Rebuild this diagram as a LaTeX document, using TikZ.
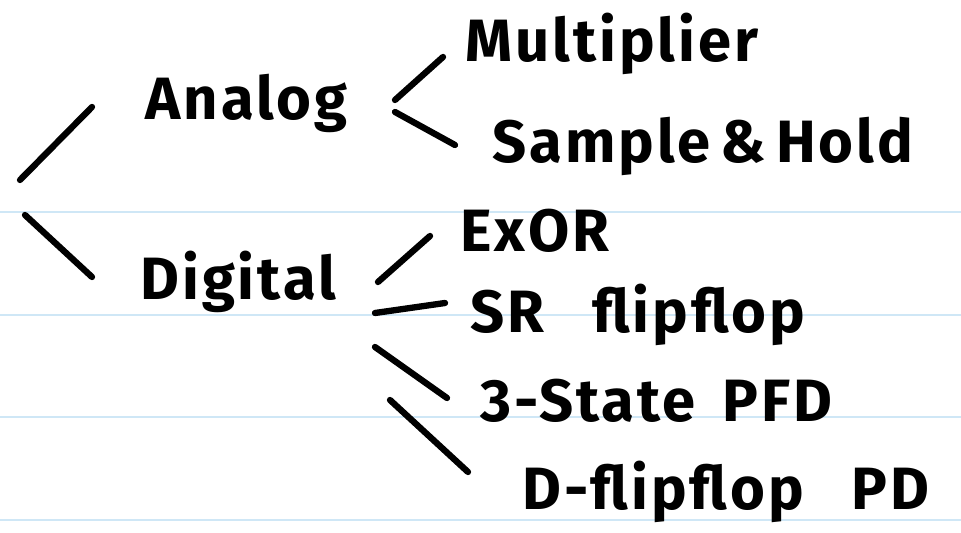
\documentclass[tikz,border=0pt]{standalone}
\usepackage{fontspec}
\setmainfont[LetterSpace=5]{Fira Sans}
\definecolor{ruleblue}{HTML}{CFE7F6}
\newcommand\widegap{\hspace{0.8em}}

\begin{document}
\begin{tikzpicture}[x=0.02cm,y=-0.02cm]
\tikzstyle{every node}=[font=\fontsize{34}{40}\selectfont\bfseries,inner sep=0pt,anchor=base west];
\tikzstyle{stroke}=[line width=3.6pt,line cap=round];
\useasboundingbox (0,0) rectangle (961,533);
\fill [white] (0,0) rectangle (961,533);
% ruled paper
\foreach \y in {212,315,417,520}
  \draw [ruleblue,line width=1.2pt] (0,\y) -- (961,\y);
% labels
\node (analog) at (145,120) {Analog};
\node (digital) at (140,300) {Digital};
\node (mult) at (465,62) {Multiplier};
\node (sh) at (492,163) {Sample\,\&\,Hold};
\node (exor) at (460,252) {ExOR};
\node (sr) at (470,333) {SR\widegap flipflop};
\node (pfd) at (480,422) {3-State\hspace{0.45em}PFD};
\node (dff) at (522,510) {D-flipflop\widegap PD};
% stroke ends
\coordinate (r1) at (20,180);  \coordinate (a0) at (92,107);
\coordinate (r2) at (25,215);  \coordinate (d0) at (92,277);
\coordinate (a1) at (395,100); \coordinate (m0) at (443,57);
\coordinate (a2) at (395,112); \coordinate (s0) at (455,145);
\coordinate (d1) at (378,282); \coordinate (e0) at (430,236);
\coordinate (d2) at (375,313); \coordinate (f0) at (445,303);
\coordinate (d3) at (375,347); \coordinate (p0) at (447,398);
\coordinate (d4) at (390,400); \coordinate (q0) at (468,472);
\draw [stroke] (r1) -- (a0) % root
  (r2) -- (d0);
\draw [stroke] (a1) -- (m0) % analog
  (a2) -- (s0);
\draw [stroke] (d1) -- (e0) % digital
  (d2) -- (f0)
  (d3) -- (p0)
  (d4) -- (q0);
\end{tikzpicture}
\end{document}
